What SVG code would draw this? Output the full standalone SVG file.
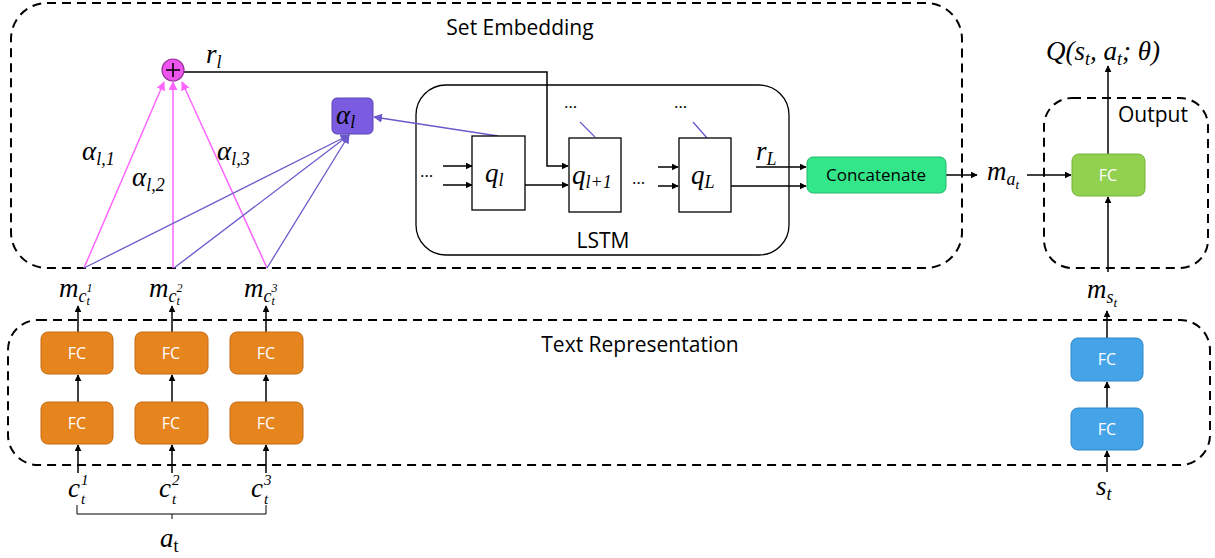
<svg xmlns="http://www.w3.org/2000/svg" width="1215" height="558" viewBox="0 0 1215 558">
<defs>
<marker id="ab" viewBox="0 0 10 10" refX="9" refY="5" markerWidth="7" markerHeight="7" markerUnits="userSpaceOnUse" orient="auto"><path d="M0,0 L10,5 L0,10 z" fill="#000"/></marker>
<marker id="am" viewBox="0 0 10 10" refX="9" refY="5" markerWidth="9" markerHeight="9" markerUnits="userSpaceOnUse" orient="auto"><path d="M0,0 L10,5 L0,10 z" fill="#ff66ff"/></marker>
<marker id="ap" viewBox="0 0 10 10" refX="9" refY="5" markerWidth="9" markerHeight="9" markerUnits="userSpaceOnUse" orient="auto"><path d="M0,0 L10,5 L0,10 z" fill="#6a5acd"/></marker>
</defs>
<style>
.dash{fill:none;stroke:#000;stroke-width:2;stroke-dasharray:9 6}
.title{font-family:"Open Sans","Liberation Sans",sans-serif;font-size:21px;fill:#000}
.dots{font-family:"Open Sans","Liberation Sans",sans-serif;font-size:17px;fill:#000}
.math{font-family:"Liberation Serif","DejaVu Serif",serif;font-style:italic;font-size:27px;fill:#000}
.sm{font-family:"Liberation Serif","DejaVu Serif",serif;font-style:italic;font-size:15px;fill:#000}
.fcw{font-family:"Open Sans","Liberation Sans",sans-serif;font-size:16px;fill:#fff;text-anchor:middle}
.orange{fill:#e6841e;stroke:#c46a12;stroke-width:1}
.blue{fill:#45a3e8;stroke:#2f86c8;stroke-width:1}
.ln{stroke:#000;stroke-width:1.5;fill:none}
.lm{stroke:#ff66ff;stroke-width:1.5;fill:none}
.lp{stroke:#6a5acd;stroke-width:1.3;fill:none}
.q{fill:#fff;stroke:#000;stroke-width:1.3}
</style>

<!-- containers -->
<g id="set-embedding">
<rect class="dash" x="11" y="3" width="951" height="265" rx="36"/>
<text class="title" x="520" y="35" text-anchor="middle">Set Embedding</text>
</g>
<g id="text-representation">
<rect class="dash" x="8" y="320" width="1202" height="145" rx="30"/>
<text class="title" x="640" y="352" text-anchor="middle">Text Representation</text>
</g>
<g id="output">
<rect class="dash" x="1044" y="98" width="164" height="170" rx="28"/>
<text class="title" x="1153" y="122" text-anchor="middle">Output</text>
</g>
<g id="lstm">
<rect x="416" y="85" width="373" height="170" rx="30" fill="none" stroke="#000" stroke-width="1.3"/>
<text class="title" x="603" y="248" text-anchor="middle">LSTM</text>
</g>

<!-- connectors -->
<g id="connectors">
<line class="lm" x1="84" y1="268" x2="164" y2="82" marker-end="url(#am)"/>
<line class="lm" x1="173" y1="268" x2="173" y2="82" marker-end="url(#am)"/>
<line class="lm" x1="267" y1="268" x2="182" y2="82" marker-end="url(#am)"/>
<line class="lp" x1="84" y1="268" x2="349" y2="135" marker-end="url(#ap)"/>
<line class="lp" x1="174" y1="268" x2="349" y2="135" marker-end="url(#ap)"/>
<line class="lp" x1="267" y1="268" x2="349" y2="135" marker-end="url(#ap)"/>
<line class="lp" x1="498" y1="136" x2="374" y2="117" marker-end="url(#ap)"/>
<line class="lp" x1="580" y1="122" x2="595" y2="137"/>
<line class="lp" x1="693" y1="122" x2="707" y2="138"/>
<polyline class="ln" points="184,72 547,72 547,166 568,166" stroke-width="1.2" marker-end="url(#ab)"/>
<line class="ln" x1="443" y1="166" x2="472" y2="166" marker-end="url(#ab)"/>
<line class="ln" x1="443" y1="185" x2="472" y2="185" marker-end="url(#ab)"/>
<line class="ln" x1="525" y1="185" x2="568" y2="185" marker-end="url(#ab)"/>
<line class="ln" x1="658" y1="167" x2="678" y2="167" marker-end="url(#ab)"/>
<line class="ln" x1="658" y1="186" x2="678" y2="186" marker-end="url(#ab)"/>
<line class="ln" x1="756" y1="167" x2="806" y2="167" marker-end="url(#ab)"/>
<line class="ln" x1="731" y1="186" x2="806" y2="186" marker-end="url(#ab)"/>
<line class="ln" x1="946" y1="175" x2="977" y2="175" marker-end="url(#ab)"/>
<line class="ln" x1="1027" y1="175" x2="1071" y2="175" marker-end="url(#ab)"/>
<line class="ln" x1="1108" y1="154" x2="1108" y2="66" marker-end="url(#ab)"/>
<line class="ln" x1="1108" y1="272" x2="1108" y2="197" marker-end="url(#ab)"/>
<line class="ln" x1="1107" y1="338" x2="1107" y2="311" marker-end="url(#ab)"/>
<line class="ln" x1="1107" y1="408" x2="1107" y2="382" marker-end="url(#ab)"/>
<line class="ln" x1="1107" y1="472" x2="1107" y2="451" marker-end="url(#ab)"/>
<line class="ln" x1="78" y1="332" x2="78" y2="306" marker-end="url(#ab)"/>
<line class="ln" x1="78" y1="402" x2="78" y2="375" marker-end="url(#ab)"/>
<line class="ln" x1="78" y1="473" x2="78" y2="445" marker-end="url(#ab)"/>
<line class="ln" x1="172" y1="332" x2="172" y2="306" marker-end="url(#ab)"/>
<line class="ln" x1="172" y1="402" x2="172" y2="375" marker-end="url(#ab)"/>
<line class="ln" x1="172" y1="473" x2="172" y2="445" marker-end="url(#ab)"/>
<line class="ln" x1="266" y1="332" x2="266" y2="306" marker-end="url(#ab)"/>
<line class="ln" x1="266" y1="402" x2="266" y2="375" marker-end="url(#ab)"/>
<line class="ln" x1="266" y1="473" x2="266" y2="445" marker-end="url(#ab)"/>
<polyline points="77,505 77,514 266,514 266,505" fill="none" stroke="#000" stroke-width="1"/>
<line x1="172" y1="514" x2="172" y2="519" stroke="#000" stroke-width="1"/>
</g>

<!-- nodes -->
<g id="sum">
<circle cx="173" cy="70" r="11" fill="#ee55ee" stroke="#993399" stroke-width="1.2"/>
<path d="M166,70 H180 M173,63 V77" stroke="#000" stroke-width="1.6"/>
</g>
<g id="alpha-l">
<rect x="332" y="98" width="41" height="36" rx="5" fill="#7b5ce0" stroke="#5a46b0" stroke-width="1"/>
<text class="math" x="336" y="124">α<tspan font-size="18" dy="4">l</tspan></text>
</g>
<g id="q-l"><rect class="q" x="472" y="136" width="53" height="74"/><text class="math" x="485" y="182">q<tspan font-size="18" dy="4">l</tspan></text></g>
<g id="q-l1"><rect class="q" x="569" y="138" width="52" height="74"/><text class="math" x="572" y="184">q<tspan font-size="18" dy="4">l+1</tspan></text></g>
<g id="q-L"><rect class="q" x="679" y="138" width="52" height="74"/><text class="math" x="691" y="184">q<tspan font-size="18" dy="4">L</tspan></text></g>
<g id="concatenate">
<rect x="807" y="157" width="139" height="36" rx="6" fill="#33e68a" stroke="#22b86a" stroke-width="1"/>
<text x="876" y="181" text-anchor="middle" font-family="Open Sans, Liberation Sans, sans-serif" font-size="17" fill="#000">Concatenate</text>
</g>
<g id="fc-out">
<rect x="1072" y="154" width="73" height="42" rx="7" fill="#92d050" stroke="#78b038" stroke-width="1"/>
<text class="fcw" x="1108" y="181">FC</text>
</g>
<g id="fc-s2"><rect class="blue" x="1071" y="338" width="72" height="43" rx="7"/><text class="fcw" x="1107" y="365">FC</text></g>
<g id="fc-s1"><rect class="blue" x="1071" y="408" width="72" height="42" rx="7"/><text class="fcw" x="1107" y="435">FC</text></g>
<g id="fc-c1b"><rect class="orange" x="41" y="332" width="72" height="42" rx="7"/><text class="fcw" x="77" y="359">FC</text></g>
<g id="fc-c1a"><rect class="orange" x="41" y="402" width="72" height="42" rx="7"/><text class="fcw" x="77" y="429">FC</text></g>
<g id="fc-c2b"><rect class="orange" x="135" y="332" width="73" height="42" rx="7"/><text class="fcw" x="171" y="359">FC</text></g>
<g id="fc-c2a"><rect class="orange" x="135" y="402" width="73" height="42" rx="7"/><text class="fcw" x="171" y="429">FC</text></g>
<g id="fc-c3b"><rect class="orange" x="230" y="332" width="73" height="42" rx="7"/><text class="fcw" x="266" y="359">FC</text></g>
<g id="fc-c3a"><rect class="orange" x="230" y="402" width="73" height="42" rx="7"/><text class="fcw" x="266" y="429">FC</text></g>

<!-- labels -->
<g id="labels">
<text class="math" x="206" y="63">r<tspan font-size="18" dy="5">l</tspan></text>
<text class="math" x="756" y="160">r<tspan font-size="18" dy="5">L</tspan></text>
<text class="math" x="82" y="160">α<tspan font-size="18" dy="5">l,1</tspan></text>
<text class="math" x="132" y="186">α<tspan font-size="18" dy="5">l,2</tspan></text>
<text class="math" x="217" y="160">α<tspan font-size="18" dy="5">l,3</tspan></text>
<text class="dots" x="420" y="177">…</text>
<text class="dots" x="632" y="184">…</text>
<text class="dots" x="564" y="108">…</text>
<text class="dots" x="674" y="108">…</text>
<text class="math" x="987" y="180">m<tspan font-size="18" dy="5">a</tspan><tspan font-size="13" dy="4">t</tspan></text>
<text class="math" x="1046" y="60">Q(s<tspan font-size="18" dy="5">t</tspan><tspan dy="-5">, a</tspan><tspan font-size="18" dy="5">t</tspan><tspan dy="-5">; θ)</tspan></text>
<text class="math" x="1087" y="298">m<tspan font-size="18" dy="5">s</tspan><tspan font-size="13" dy="4">t</tspan></text>
<text class="math" x="1096" y="495">s<tspan font-size="18" dy="5">t</tspan></text>
<text class="math" x="59" y="297">m<tspan font-size="18" dy="5">c</tspan><tspan font-size="12" dy="-10">1</tspan><tspan font-size="12" dx="-6" dy="13">t</tspan></text>
<text class="math" x="149" y="297">m<tspan font-size="18" dy="5">c</tspan><tspan font-size="12" dy="-10">2</tspan><tspan font-size="12" dx="-6" dy="13">t</tspan></text>
<text class="math" x="244" y="297">m<tspan font-size="18" dy="5">c</tspan><tspan font-size="12" dy="-10">3</tspan><tspan font-size="12" dx="-6" dy="13">t</tspan></text>
<text class="math" x="68" y="497">c</text><text class="sm" x="81" y="485">1</text><text class="sm" x="81" y="504">t</text>
<text class="math" x="159" y="497">c</text><text class="sm" x="172" y="485">2</text><text class="sm" x="172" y="504">t</text>
<text class="math" x="251" y="497">c</text><text class="sm" x="264" y="485">3</text><text class="sm" x="264" y="504">t</text>
<text class="math" x="160" y="547">a<tspan font-size="18" dy="5" font-style="normal">t</tspan></text>
</g>
</svg>
